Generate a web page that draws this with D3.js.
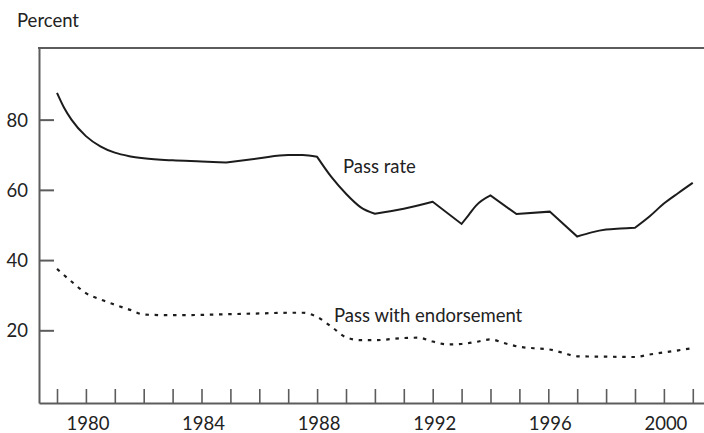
<!DOCTYPE html>
<html>
<head>
<meta charset="utf-8">
<script src="https://cdn.jsdelivr.net/npm/d3@7"></script>
<style>
  html, body { margin: 0; padding: 0; background: #fff; }
  svg { display: block; font-family: Lato, "Open Sans", sans-serif; }
</style>
</head>
<body>
<svg id="chart" width="704" height="433"></svg>
<script>
// ---- Data ----
const passRateYears = [1979, 1979.25, 1979.5, 1980, 1980.5, 1981, 1981.5, 1982, 1983, 1984, 1984.85, 1986, 1987, 1987.5, 1988,
  1988.5, 1989, 1989.5, 1990, 1991, 1992, 1993, 1993.25, 1993.5, 1994, 1994.9, 1996.05, 1997, 1997.5, 1998, 1998.5, 1999,
  1999.5, 2000, 2000.5, 2001];
const passRateValues = [87.6, 83.3, 80.0, 75.3, 72.4, 70.6, 69.6, 69.0, 68.4, 68.1, 67.8, 69.0, 69.9, 69.9, 69.4,
  63.6, 58.9, 55.1, 53.2, 54.6, 56.6, 50.3, 52.9, 55.5, 58.4, 53.1, 53.8, 46.7, 47.9, 48.7, 49.0, 49.2,
  52.4, 56.1, 59.1, 62.0];
// years where the pass-rate line has a sharp corner
const passRateCorners = [1984.85, 1988, 1990, 1992, 1993, 1994, 1994.9, 1996.05, 1997, 1999];

const endorseYears = [1979, 1979.5, 1980, 1980.5, 1981, 1981.5, 1982, 1983, 1984, 1985, 1986, 1987, 1987.5, 1988,
  1988.5, 1989, 1989.5, 1990, 1991, 1991.5, 1992, 1992.5, 1993, 1993.5, 1994, 1994.5, 1995, 1995.5, 1996, 1996.5,
  1997, 1998, 1999, 1999.5, 2000, 2000.5, 2001];
const endorseValues = [37.5, 33.9, 30.6, 28.8, 27.3, 25.9, 24.5, 24.3, 24.4, 24.6, 24.8, 25.0, 25.0, 23.8,
  21.0, 18.0, 17.2, 17.2, 17.8, 17.9, 16.8, 16.0, 16.1, 16.7, 17.4, 16.3, 15.3, 14.9, 14.6, 13.6,
  12.6, 12.5, 12.4, 13.1, 13.7, 14.3, 14.9];

const yTickValues = [20, 40, 60, 80];
const xTickYears = d3.range(1979, 2002);
const xLabelYears = [1980, 1984, 1988, 1992, 1996, 2000];
const yAxisTitle = "Percent";
const seriesLabels = ["Pass rate", "Pass with endorsement"];

// ---- Layout ----
const svg = d3.select("#chart");
const mLeft = 39, mRight = 704, mTop = 48, mBottom = 403;
const frameColor = "#5c5c5c";
const inkColor = "#1c1c1c";
const textColor = "#222";
const fontSize = 18.5;

const x = d3.scaleLinear().domain([1978.377, 2001.388]).range([mLeft, mRight]);
const y = d3.scaleLinear().domain([-0.7, 100.4]).range([mBottom, mTop]);

// Left axis
const yAxis = d3.axisLeft(y).tickValues(yTickValues).tickSizeInner(-15).tickSizeOuter(0).tickPadding(11)
  .tickFormat(d3.format("d"));
const gy = svg.append("g").attr("transform", `translate(${mLeft},0)`).call(yAxis);
gy.select(".domain").attr("stroke", frameColor).attr("stroke-width", 2);
gy.selectAll(".tick line").attr("stroke", frameColor).attr("stroke-width", 2);
gy.selectAll(".tick text").attr("fill", textColor).attr("font-size", fontSize).attr("dy", "0.36em")
  .attr("font-family", "Lato, 'Open Sans', sans-serif");

// Bottom axis
const xAxis = d3.axisBottom(x).tickValues(xTickYears).tickSizeInner(-14).tickSizeOuter(0).tickPadding(14)
  .tickFormat(d => xLabelYears.includes(d) ? String(d) : "");
const gx = svg.append("g").attr("transform", `translate(0,${mBottom})`).call(xAxis);
gx.select(".domain").attr("stroke", frameColor).attr("stroke-width", 2);
gx.selectAll(".tick line").attr("stroke", frameColor).attr("stroke-width", 1.6);
gx.selectAll(".tick text").attr("fill", textColor).attr("font-size", fontSize)
  .attr("font-family", "Lato, 'Open Sans', sans-serif").attr("dx", "1.5");

// Top frame line
svg.append("line").attr("x1", mLeft - 1).attr("x2", mRight).attr("y1", mTop).attr("y2", mTop)
  .attr("stroke", frameColor).attr("stroke-width", 2);

// Y axis title
svg.append("text").attr("x", 17).attr("y", 27).attr("font-size", fontSize).attr("fill", textColor).text(yAxisTitle);

// Lines
const passData = passRateYears.map((yr, i) => ({ year: yr, value: passRateValues[i] }));
const endData = endorseYears.map((yr, i) => ({ year: yr, value: endorseValues[i] }));
const smooth = d3.line().x(d => x(d.year)).y(d => y(d.value)).curve(d3.curveMonotoneX);

// Pass rate: smooth between corners, sharp at corners
const bounds = [passRateYears[0], ...passRateCorners, passRateYears[passRateYears.length - 1]];
let passPath = "";
for (let i = 0; i < bounds.length - 1; i++) {
  const seg = passData.filter(d => d.year >= bounds[i] && d.year <= bounds[i + 1]);
  let p = smooth(seg);
  if (i > 0) p = "L" + p.slice(1);
  passPath += p;
}
svg.append("path").attr("d", passPath)
  .attr("fill", "none").attr("stroke", inkColor).attr("stroke-width", 2).attr("stroke-linejoin", "miter");

svg.append("path").datum(endData).attr("d", smooth)
  .attr("fill", "none").attr("stroke", inkColor).attr("stroke-width", 2.2).attr("stroke-dasharray", "3.5,5.7");

// Series labels
svg.append("text").attr("x", 343).attr("y", 172.5).attr("font-size", fontSize).attr("fill", textColor).text(seriesLabels[0]);
svg.append("text").attr("x", 334).attr("y", 321.5).attr("font-size", fontSize).attr("fill", textColor).text(seriesLabels[1]);
</script>
</body>
</html>
